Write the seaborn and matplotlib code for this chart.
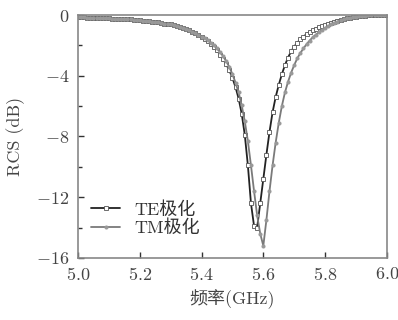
import numpy as np
import pandas as pd
import matplotlib
matplotlib.use("Agg")
import matplotlib.pyplot as plt
import seaborn as sns
from matplotlib.ticker import MultipleLocator

# 频率 (GHz)，步长 0.01
freq = np.round(np.arange(5.00, 6.001, 0.01), 2)

# 左侧平坦段 5.00-5.40，两种极化基本重合
flat_left = [-0.15, -0.16, -0.16, -0.17, -0.17, -0.18, -0.19, -0.19, -0.20, -0.21,
             -0.22, -0.23, -0.24, -0.25, -0.26, -0.27, -0.28, -0.29, -0.31, -0.32,
             -0.34, -0.36, -0.38, -0.40, -0.43, -0.46, -0.49, -0.53, -0.57, -0.60,
             -0.62, -0.67, -0.72, -0.78, -0.85, -0.92, -1.00, -1.09, -1.19, -1.30,
             -1.42]

te_rest = [-1.56, -1.72, -1.90, -2.10, -2.33, -2.60, -2.90, -3.25, -3.65, -4.15,
           -4.75, -5.50, -6.50, -7.90, -9.90, -12.4, -13.9, -14.0, -12.4, -10.8,
           -9.20, -7.70, -6.40, -5.40, -4.60, -3.90, -3.30, -2.80, -2.40, -2.08,
           -1.82, -1.60, -1.42, -1.26, -1.12, -1.00, -0.90, -0.82, -0.74, -0.66,
           -0.58, -0.50, -0.43, -0.37, -0.31, -0.26, -0.21, -0.17, -0.13, -0.10,
           -0.08, -0.06, -0.04, -0.03, -0.02, -0.02, -0.01, -0.01, -0.01, 0.00]

tm_rest = [-1.52, -1.66, -1.82, -2.00, -2.20, -2.45, -2.72, -3.05, -3.42, -3.90,
           -4.45, -5.10, -5.95, -7.00, -8.30, -9.90, -11.6, -13.2, -14.4, -15.2,
           -13.5, -11.6, -9.90, -8.40, -7.10, -6.00, -5.10, -4.40, -3.80, -3.30,
           -2.85, -2.50, -2.20, -1.92, -1.68, -1.47, -1.29, -1.13, -0.98, -0.85,
           -0.73, -0.62, -0.52, -0.43, -0.35, -0.28, -0.22, -0.17, -0.13, -0.10,
           -0.08, -0.06, -0.04, -0.03, -0.02, -0.02, -0.01, -0.01, -0.01, 0.00]

rcs_te = flat_left + te_rest
rcs_tm = flat_left + tm_rest

x_ticks = [5.0, 5.2, 5.4, 5.6, 5.8, 6.0]
y_ticks = [0, -4, -8, -12, -16]

df = pd.DataFrame({"freq": freq, "TE": rcs_te, "TM": rcs_tm})

sns.set_style("ticks")
plt.rcParams["font.family"] = ["cmr10", "Noto Sans CJK SC"]
plt.rcParams["mathtext.fontset"] = "cm"

fig = plt.figure(figsize=(3.98, 3.2), dpi=100)
ax = fig.add_axes([0.196, 0.194, 0.776, 0.759])

sns.lineplot(data=df, x="freq", y="TE", ax=ax, color="#222222", lw=1.3,
             marker="s", markersize=3, markerfacecolor="white",
             markeredgecolor="#555555", markeredgewidth=0.6, label="TE极化")
sns.lineplot(data=df, x="freq", y="TM", ax=ax, color="#7a7a7a", lw=1.3,
             marker="o", markersize=2.2, markerfacecolor="#999999",
             markeredgecolor="#999999", label="TM极化")

ax.set_xlim(5.0, 6.0)
ax.set_ylim(-16, 0)
ax.set_xticks(x_ticks)
ax.set_xticklabels([f"${v:.1f}$" for v in x_ticks])
ax.set_yticks(y_ticks)
ax.set_yticklabels([f"${v}$" for v in y_ticks])
ax.yaxis.set_minor_locator(MultipleLocator(2))
ax.tick_params(direction="in", length=4, width=1, labelsize=13, colors="#333333",
               labelcolor="#444444", pad=6)
ax.tick_params(which="minor", direction="in", length=3, width=1, colors="#333333")
for s in ax.spines.values():
    s.set_color("#888888")
    s.set_linewidth(1.2)

ax.set_xlabel("频率(GHz)", fontsize=13, color="#444444", labelpad=4)
ax.set_ylabel("RCS (dB)", fontsize=13, color="#444444", labelpad=8)

leg = ax.legend(loc="lower left", bbox_to_anchor=(0.02, 0.06), frameon=False,
                fontsize=13, handlelength=1.6, handletextpad=0.8,
                labelspacing=0.1, borderaxespad=0)
for t in leg.get_texts():
    t.set_color("#333333")

fig.savefig("out.png", dpi=100)
